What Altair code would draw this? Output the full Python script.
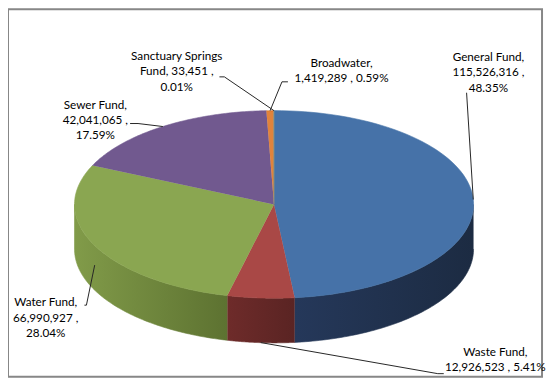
import altair as alt
import pandas as pd

# ---- data ----
names = ["General Fund", "Waste Fund", "Water Fund", "Sewer Fund",
         "Broadwater", "Sanctuary Springs Fund"]
values = [115526316, 12926523, 66990927, 42041065, 1419289, 33451]
label_lines = [
    ["General Fund,", "115,526,316 ,", "48.35%"],
    ["Waste Fund,", "12,926,523 , 5.41%"],
    ["Water Fund,", "66,990,927 ,", "28.04%"],
    ["Sewer Fund,", "42,041,065 ,", "17.59%"],
    ["Broadwater,", "1,419,289 , 0.59%"],
    ["Sanctuary Springs", "Fund, 33,451 ,", "0.01%"],
]

# ---- styles / layout ----
top_colors = ["#4672A8", "#A94846", "#8AA651", "#71598F", "#E0833C", "#4198AF"]
wall_left = ["#25385A", "#6E2B2A", "#819B49", "#4A3A5E", "#9A5A28", "#2B6676"]
wall_right = ["#1C2B42", "#5A2423", "#5D7231", "#4A3A5E", "#9A5A28", "#2B6676"]
W, H = 538, 370
CX, CY, RX, RY, D = 268, 196.5, 201, 94.5, 45
N = 80
# label top-centre positions and leader start / elbow (chart pixels)
label_pos = {
    "General Fund": (484, 43), "Waste Fund": (491, 340), "Water Fund": (38, 290),
    "Sewer Fund": (88, 91), "Broadwater": (336, 49), "Sanctuary Springs Fund": (170, 42),
}
leader = {
    "General Fund": (462, 84, 462), "Waste Fund": (439, 367, 433),
    "Water Fund": (77, 298, 79), "Sewer Fund": (123, 115, 131),
    "Broadwater": (282, 73, 276), "Sanctuary Springs Fund": (213, 68, 218),
}

df = pd.DataFrame({
    "name": names,
    "value": values,
    "order": list(range(len(names))),
    "label": ["\n".join(l) for l in label_lines],
    "lx": [label_pos[n][0] for n in names],
    "ly": [label_pos[n][1] for n in names],
    "sx": [leader[n][0] for n in names],
    "sy": [leader[n][1] for n in names],
    "ex": [leader[n][2] for n in names],
})

fill_scale = alt.Scale(domain=names, range=top_colors)
xsc = alt.Scale(domain=[0, W], nice=False, zero=False)
ysc = alt.Scale(domain=[0, H], nice=False, zero=False, reverse=True)

base = alt.Chart(df).transform_joinaggregate(
    total="sum(value)"
).transform_window(
    cum="sum(value)", sort=[alt.SortField("order")], frame=[None, 0]
).transform_calculate(
    a0="2*PI*(datum.cum - datum.value)/datum.total",
    a1="2*PI*datum.cum/datum.total",
)


def grad(c1, c2):
    return alt.Gradient(
        gradient="linear",
        stops=[alt.GradientStop(color=c1, offset=0), alt.GradientStop(color=c2, offset=1)],
        x1=0, x2=1, y1=0, y2=0,
    )


# side walls (front half only), one layer per slice for its own shading
wall_layers = []
for i, nm in enumerate(names):
    g = grad(wall_left[i], wall_right[i])
    wl = base.transform_filter(
        alt.datum.name == nm
    ).transform_calculate(
        b0="max(datum.a0, PI/2)",
        b1="min(datum.a1, 3*PI/2)",
    ).transform_filter(
        "datum.b1 > datum.b0"
    ).transform_calculate(
        k=f"sequence(0, {2 * N + 2})"
    ).transform_flatten(["k"]).transform_calculate(
        t=f"datum.k <= {N} ? datum.b0 + (datum.b1-datum.b0)*datum.k/{N} : datum.b0 + (datum.b1-datum.b0)*({2 * N + 1}-datum.k)/{N}",
        px=f"{CX} + {RX}*sin(datum.t)",
        py=f"{CY} - {RY}*cos(datum.t) + (datum.k <= {N} ? 0 : {D})",
    ).mark_line(fill=g, stroke=g, strokeWidth=0.6, interpolate="linear").encode(
        x=alt.X("px:Q", scale=xsc, axis=None),
        y=alt.Y("py:Q", scale=ysc, axis=None),
        order=alt.Order("k:Q"),
    )
    wall_layers.append(wl)

# top faces
tops = base.transform_calculate(
    k=f"sequence(0, {N + 2})"
).transform_flatten(["k"]).transform_calculate(
    t=f"datum.a0 + (datum.a1-datum.a0)*min(datum.k,{N})/{N}",
    px=f"datum.k > {N} ? {CX} : {CX} + {RX}*sin(datum.t)",
    py=f"datum.k > {N} ? {CY} : {CY} - {RY}*cos(datum.t)",
).mark_line(strokeWidth=0.6, interpolate="linear").encode(
    x=alt.X("px:Q", scale=xsc, axis=None),
    y=alt.Y("py:Q", scale=ysc, axis=None),
    fill=alt.Fill("name:N", scale=fill_scale, legend=None),
    stroke=alt.Stroke("name:N", scale=fill_scale, legend=None),
    order=alt.Order("k:Q"),
    detail="name:N",
)

# leader lines
anchor = base.transform_calculate(
    mid="(datum.a0 + datum.a1)/2",
).transform_calculate(
    qx=f"{CX} + {RX}*sin(datum.mid)",
    qy=f"{CY} - {RY}*cos(datum.mid) + {D}*max(0, -cos(datum.mid))",
)
lead1 = anchor.mark_rule(color="#262626", strokeWidth=1).encode(
    x=alt.X("sx:Q", scale=xsc, axis=None), y=alt.Y("sy:Q", scale=ysc, axis=None),
    x2="ex:Q", y2="sy:Q",
)
lead2 = anchor.mark_rule(color="#262626", strokeWidth=1).encode(
    x=alt.X("ex:Q", scale=xsc, axis=None), y=alt.Y("sy:Q", scale=ysc, axis=None),
    x2="qx:Q", y2="qy:Q",
)

labels = alt.Chart(df).mark_text(
    font="Lato", fontSize=11.8, lineHeight=15.5, lineBreak="\n",
    align="center", baseline="top", color="#000000",
).encode(
    x=alt.X("lx:Q", scale=xsc, axis=None),
    y=alt.Y("ly:Q", scale=ysc, axis=None),
    text="label:N",
)

chart = alt.layer(*wall_layers, tops, lead1, lead2, labels).properties(
    width=W, height=H, padding=0,
).configure_view(stroke="#878787", strokeWidth=2)

chart.save("out.html", embed_options={"renderer": "svg", "actions": False})
